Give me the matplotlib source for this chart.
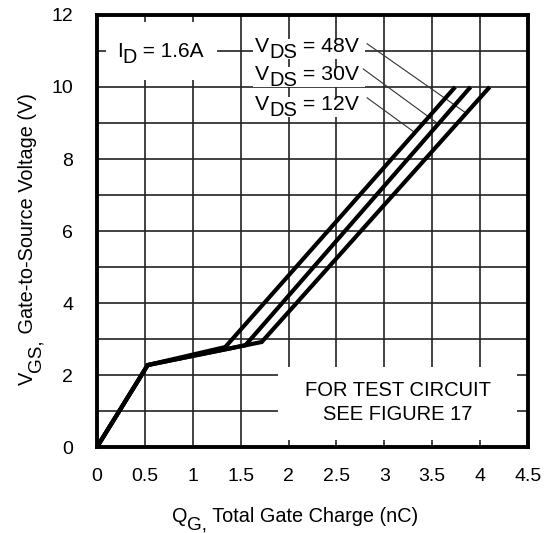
import numpy as np
import matplotlib
matplotlib.use('Agg')
import matplotlib.pyplot as plt
from matplotlib.patches import Rectangle
from matplotlib.transforms import offset_copy

plt.rcParams['font.family'] = ['Liberation Sans', 'DejaVu Sans']

# gate charge curves (nC, V)
q_12v = [0, 0.53, 1.34, 3.74]
v_12v = [0, 2.28, 2.78, 10.0]
q_30v = [0, 0.53, 1.55, 3.90]
v_30v = [0, 2.28, 2.83, 10.0]
q_48v = [0, 0.53, 1.72, 4.10]
v_48v = [0, 2.28, 2.92, 10.0]

vds_values = ['48V', '30V', '12V']
label_base = [10.97, 10.19, 9.36]
# leader lines: label end -> point on curve
leader_start = [(2.82, 11.2), (2.78, 10.5), (2.82, 9.7)]
leader_end = [(3.84, 9.3), (3.55, 9.0), (3.31, 8.75)]

x_ticks = [0, 0.5, 1, 1.5, 2, 2.5, 3, 3.5, 4, 4.5]
x_tick_labels = ['0', '0.5', '1', '1.5', '2', '2.5', '3', '3.5', '4', '4.5']
y_ticks = [0, 2, 4, 6, 8, 10, 12]

fig = plt.figure(figsize=(5.57, 5.33), dpi=100)
ax = fig.add_axes([0.174, 0.161, 0.774, 0.811])
ax.set_xlim(0, 4.5)
ax.set_ylim(0, 12)
rend = fig.canvas.get_renderer()


def draw_parts(x, y, parts, size, trans, rotation=0, sub_shift=6, sub_scale=0.95, z=4):
    # text with near full size subscripts, drawn piece by piece
    adv = 0
    for s, sub in parts:
        if rotation == 0:
            dx, dy = adv, (-sub_shift if sub else 0)
        else:
            dx, dy = (sub_shift if sub else 0), adv
        t = fig.text(x, y, s, fontsize=size * (sub_scale if sub else 1), ha='left', va='baseline',
                     rotation=rotation, rotation_mode='anchor', zorder=z,
                     transform=offset_copy(trans, fig=fig, x=dx, y=dy, units='dots'))
        ext = t.get_window_extent(rend)
        adv += ext.width if rotation == 0 else ext.height


ax.set_xticks(x_ticks)
ax.set_xticklabels(x_tick_labels)
ax.set_yticks(y_ticks)
ax.set_yticks(np.arange(1, 12, 2), minor=True)
ax.tick_params(which='both', length=0)
ax.tick_params(axis='x', pad=15, labelsize=14)
ax.tick_params(axis='y', pad=17, labelsize=14)
ax.grid(True, which='both', color='#222222', lw=1.2, zorder=0)
ax.set_axisbelow(True)
for s in ax.spines.values():
    s.set_linewidth(2.8)
    s.set_zorder(5)

# white boxes that break the grid
ax.add_patch(Rectangle((0.1, 10.2), 1.15, 1.6, facecolor='white', edgecolor='none', zorder=1))
ax.add_patch(Rectangle((1.89, 0.2), 2.5, 2.02, facecolor='white', edgecolor='none', zorder=1))
for yb in label_base:
    ax.add_patch(Rectangle((1.63, yb - 0.2), 1.17, 0.57, facecolor='white', edgecolor='none', zorder=1))

for q, v in [(q_12v, v_12v), (q_30v, v_30v), (q_48v, v_48v)]:
    ax.plot(q, v, color='black', lw=3.0, solid_capstyle='butt', solid_joinstyle='miter', zorder=3)

for val, yb, (xs, ys), (xe, ye) in zip(vds_values, label_base, leader_start, leader_end):
    draw_parts(1.65, yb, [('V', False), ('DS', True), (' = ' + val, False)], 15.3, ax.transData)
    ax.plot([xs, xe], [ys, ye], color='#333333', lw=0.8, zorder=2)

draw_parts(0.21, 10.83, [('I', False), ('D', True), (' = 1.6A', False)], 15, ax.transData)
ax.text(3.14, 1.58, 'FOR TEST CIRCUIT', ha='center', va='center', fontsize=14.5, zorder=2)
ax.text(3.14, 0.92, 'SEE FIGURE 17', ha='center', va='center', fontsize=14.5, zorder=2)

# axis titles
draw_parts(172 / 557, 11 / 533, [('Q', False), ('G,', True), (' Total Gate Charge (nC)', False)],
           14.3, fig.transFigure, sub_shift=7)
draw_parts(33 / 557, (533 - 385) / 533, [('V', False), ('GS,', True), (' Gate-to-Source Voltage (V)', False)],
           14.3, fig.transFigure, rotation=90, sub_shift=7)

fig.savefig('out.png', dpi=100)
